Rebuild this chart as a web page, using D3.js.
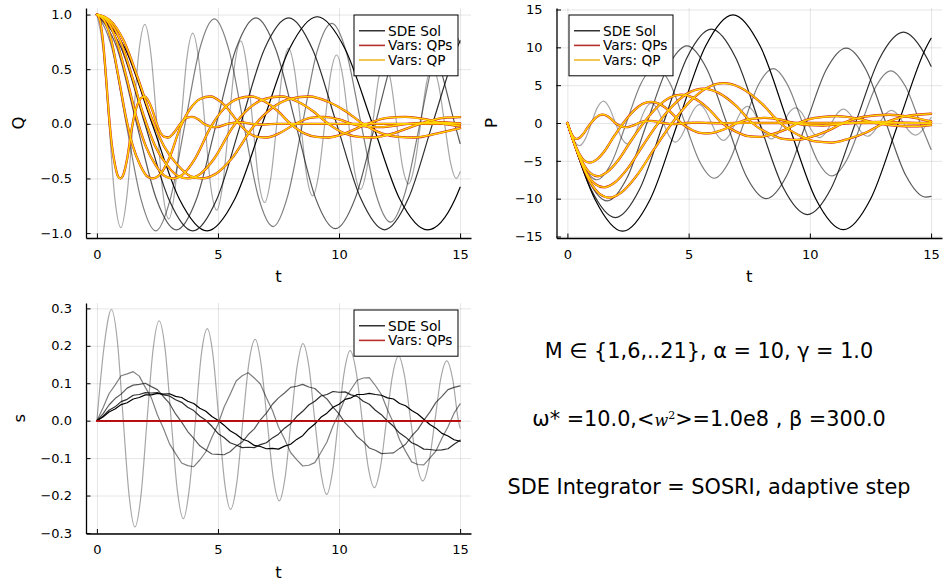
<!DOCTYPE html>
<html>
<head>
<meta charset="utf-8">
<script src="https://cdn.jsdelivr.net/npm/d3@7"></script>
<style>
  body { margin: 0; background: #fff; }
  svg { display: block; }
</style>
</head>
<body>
<svg id="fig" width="946" height="585"></svg>
<script>
// ---------- data ----------
const masses = [1, 6, 11, 16, 21];
const tickT = [0, 5, 10, 15];
const tickQ = [-1, -0.5, 0, 0.5, 1];
const tickP = [-15, -10, -5, 0, 5, 10, 15];
const tickS = [-0.3, -0.2, -0.1, 0, 0.1, 0.2, 0.3];

// SDE solution, coordinate Q(t), one trajectory per M
const qSde = [
  [[0,1],[0.25,0.69],[0.5,0],[0.74,-0.68],[0.99,-0.95],[1.24,-0.66],[1.49,0],[1.73,0.65],[1.98,0.91],[2.23,0.64],[2.48,0],[2.72,-0.62],[2.97,-0.87],[3.22,-0.61],[3.47,0],[3.71,0.59],[3.96,0.83],[4.21,0.58],[4.46,0],[4.7,-0.57],[4.95,-0.79],[5.2,-0.55],[5.45,0],[5.69,0.54],[5.94,0.76],[6.19,0.53],[6.44,0],[6.68,-0.52],[6.93,-0.72],[7.18,-0.5],[7.43,0],[7.67,0.49],[7.92,0.69],[8.17,0.48],[8.42,0],[8.66,-0.47],[8.91,-0.66],[9.16,-0.46],[9.41,0],[9.65,0.45],[9.9,0.63],[10.15,0.44],[10.4,0],[10.64,-0.43],[10.89,-0.6],[11.14,-0.42],[11.39,0],[11.63,0.41],[11.88,0.57],[12.13,0.4],[12.38,0],[12.62,-0.39],[12.87,-0.55],[13.12,-0.38],[13.37,0],[13.61,0.37],[13.86,0.52],[14.11,0.36],[14.36,0],[14.6,-0.35],[14.85,-0.5],[15,-0.44]],
  [[0,1],[0.61,0.7],[1.21,0],[1.82,-0.69],[2.43,-0.98],[3.03,-0.69],[3.64,0],[4.24,0.68],[4.85,0.96],[5.46,0.67],[6.06,0],[6.67,-0.67],[7.28,-0.94],[7.88,-0.66],[8.49,0],[9.09,0.66],[9.7,0.92],[10.31,0.65],[10.91,0],[11.52,-0.64],[12.13,-0.9],[12.73,-0.63],[13.34,0],[13.94,0.62],[14.55,0.88],[15,0.74]],
  [[0,1],[0.82,0.7],[1.64,0],[2.46,-0.69],[3.28,-0.97],[4.11,-0.69],[4.93,0],[5.75,0.69],[6.57,0.97],[7.39,0.68],[8.21,0],[9.03,-0.68],[9.85,-0.96],[10.67,-0.68],[11.5,0],[12.32,0.67],[13.14,0.95],[13.96,0.67],[14.78,0],[15,-0.18]],
  [[0,1],[0.99,0.7],[1.98,0],[2.97,-0.69],[3.96,-0.98],[4.95,-0.69],[5.94,0],[6.93,0.69],[7.92,0.97],[8.91,0.68],[9.9,0],[10.89,-0.68],[11.88,-0.97],[12.87,-0.68],[13.86,0],[14.85,0.68],[15,0.76]],
  [[0,1],[1.14,0.7],[2.28,0],[3.41,-0.69],[4.55,-0.98],[5.69,-0.69],[6.83,0],[7.96,0.69],[9.1,0.98],[10.24,0.69],[11.38,0],[12.51,-0.69],[13.65,-0.97],[14.79,-0.69],[15,-0.58]]
];

// SDE solution, momentum P(t)
const pSde = [
  [[0,0],[0.25,-2.14],[0.5,-3.0],[0.74,-2.1],[0.99,0],[1.24,2.06],[1.49,2.88],[1.73,2.02],[1.98,0],[2.23,-1.97],[2.48,-2.76],[2.72,-1.93],[2.97,0],[3.22,1.88],[3.47,2.64],[3.71,1.84],[3.96,0],[4.21,-1.8],[4.46,-2.53],[4.7,-1.75],[4.95,0],[5.2,1.71],[5.45,2.42],[5.69,1.69],[5.94,0],[6.19,-1.64],[6.44,-2.3],[6.68,-1.6],[6.93,0],[7.18,1.56],[7.43,2.2],[7.67,1.53],[7.92,0],[8.17,-1.5],[8.42,-2.1],[8.66,-1.47],[8.91,0],[9.16,1.43],[9.41,2.01],[9.65,1.4],[9.9,0],[10.15,-1.36],[10.4,-1.92],[10.64,-1.33],[10.89,0],[11.14,1.3],[11.39,1.83],[11.63,1.27],[11.88,0],[12.13,-1.24],[12.38,-1.75],[12.62,-1.22],[12.87,0],[13.12,1.19],[13.37,1.67],[13.61,1.16],[13.86,0],[14.11,-1.13],[14.36,-1.6],[14.6,-1.11],[14.85,0],[15,0.71]],
  [[0,0],[0.61,-5.3],[1.21,-7.5],[1.82,-5.25],[2.43,0],[3.03,5.2],[3.64,7.4],[4.24,5.2],[4.85,0],[5.46,-5.15],[6.06,-7.3],[6.67,-5.1],[7.28,0],[7.88,5.05],[8.49,7.2],[9.09,5.0],[9.7,0],[10.31,-4.95],[10.91,-7.0],[11.52,-4.9],[12.13,0],[12.73,4.85],[13.34,6.9],[13.94,4.85],[14.55,0],[15,-3.5]],
  [[0,0],[0.82,-7.3],[1.64,-10.3],[2.46,-7.25],[3.28,0],[4.11,7.2],[4.93,10.2],[5.75,7.15],[6.57,0],[7.39,-7.1],[8.21,-10.0],[9.03,-7.05],[9.85,0],[10.67,7.0],[11.5,9.9],[12.32,7.0],[13.14,0],[13.96,-6.95],[14.78,-9.8],[15,-9.7]],
  [[0,0],[0.99,-8.85],[1.98,-12.5],[2.97,-8.8],[3.96,0],[4.95,8.75],[5.94,12.4],[6.93,8.7],[7.92,0],[8.91,-8.6],[9.9,-12.1],[10.89,-8.55],[11.88,0],[12.87,8.5],[13.86,12.0],[14.85,8.45],[15,7.5]],
  [[0,0],[1.14,-10.1],[2.28,-14.3],[3.41,-10.1],[4.55,0],[5.69,10.1],[6.83,14.3],[7.96,10.1],[9.1,0],[10.24,-10.0],[11.38,-14.1],[12.51,-10.0],[13.65,0],[14.79,9.95],[15,11.2]]
];

// bath coordinate s(t): M = 1 is smooth, heavier masses carry visible noise
const sSdeLight = [[0,0],[0.3,0.2],[0.6,0.297],[0.85,0.21],[1.09,0],[1.33,-0.2],[1.57,-0.284],[1.82,-0.2],[2.07,0],[2.32,0.19],[2.57,0.267],[2.82,0.19],[3.07,0],[3.32,-0.185],[3.57,-0.262],[3.82,-0.18],[4.07,0],[4.31,0.175],[4.56,0.246],[4.8,0.172],[5.04,0],[5.28,-0.168],[5.52,-0.237],[5.78,-0.165],[6.03,0],[6.28,0.155],[6.54,0.217],[6.78,0.152],[7.03,0],[7.28,-0.15],[7.53,-0.214],[7.78,-0.148],[8.02,0],[8.27,0.145],[8.51,0.206],[8.76,0.143],[9.0,0],[9.25,-0.138],[9.49,-0.197],[9.73,-0.136],[9.97,0],[10.22,0.132],[10.46,0.187],[10.71,0.13],[10.96,0],[11.21,-0.126],[11.46,-0.179],[11.71,-0.124],[11.96,0],[12.21,0.121],[12.46,0.173],[12.71,0.118],[12.96,0],[13.21,-0.114],[13.46,-0.161],[13.71,-0.113],[13.96,0],[14.2,0.112],[14.45,0.16],[14.69,0.112],[14.93,0],[15,-0.02]];

const sTimes = [0,0.25,0.5,0.75,1,1.25,1.5,1.75,2,2.25,2.5,2.75,3,3.25,3.5,3.75,4,4.25,4.5,4.75,5,5.25,5.5,5.75,6,6.25,6.5,6.75,7,7.25,7.5,7.75,8,8.25,8.5,8.75,9,9.25,9.5,9.75,10,10.25,10.5,10.75,11,11.25,11.5,11.75,12,12.25,12.5,12.75,13,13.25,13.5,13.75,14,14.25,14.5,14.75,15];
const sSdeM6  = [0,0.034,0.072,0.095,0.12,0.125,0.131,0.119,0.089,0.061,0.015,-0.021,-0.062,-0.088,-0.113,-0.12,-0.123,-0.105,-0.083,-0.044,-0.01,0.036,0.07,0.106,0.12,0.128,0.114,0.098,0.061,0.027,-0.017,-0.049,-0.085,-0.104,-0.121,-0.119,-0.112,-0.085,-0.057,-0.014,0.02,0.06,0.084,0.108,0.114,0.115,0.094,0.07,0.029,-0.006,-0.051,-0.082,-0.11,-0.117,-0.118,-0.1,-0.081,-0.047,-0.016,0.02,0.045];
const sSdeM11 = [0,0.018,0.042,0.059,0.071,0.087,0.095,0.097,0.1,0.091,0.083,0.064,0.046,0.018,-0.004,-0.029,-0.047,-0.067,-0.078,-0.089,-0.09,-0.091,-0.083,-0.068,-0.057,-0.037,-0.022,0.002,0.02,0.044,0.061,0.074,0.089,0.092,0.097,0.09,0.086,0.071,0.058,0.036,0.018,-0.006,-0.022,-0.043,-0.056,-0.073,-0.079,-0.088,-0.087,-0.086,-0.074,-0.063,-0.041,-0.024,0.001,0.023,0.049,0.065,0.083,0.089,0.093];
const sSdeM16 = [0,0.012,0.028,0.037,0.051,0.057,0.068,0.07,0.075,0.074,0.075,0.069,0.066,0.056,0.049,0.036,0.027,0.012,0.001,-0.015,-0.034,-0.045,-0.059,-0.065,-0.072,-0.071,-0.072,-0.064,-0.059,-0.046,-0.036,-0.02,-0.008,0.011,0.025,0.042,0.052,0.066,0.07,0.078,0.076,0.077,0.069,0.065,0.052,0.044,0.028,0.016,-0.001,-0.015,-0.033,-0.044,-0.059,-0.066,-0.076,-0.077,-0.079,-0.078,-0.075,-0.063,-0.052];
const sSdeM21 = [0,0.01,0.023,0.031,0.043,0.048,0.058,0.062,0.069,0.069,0.073,0.071,0.072,0.065,0.062,0.052,0.046,0.033,0.025,0.011,0.001,-0.012,-0.027,-0.036,-0.049,-0.055,-0.066,-0.069,-0.075,-0.074,-0.076,-0.068,-0.063,-0.05,-0.04,-0.022,-0.009,0.009,0.02,0.036,0.044,0.057,0.061,0.07,0.07,0.073,0.07,0.068,0.061,0.058,0.046,0.04,0.027,0.018,0.004,-0.01,-0.02,-0.034,-0.041,-0.051,-0.055];

// variational trajectories (QPs and QP ansätze coincide at this scale)
const qVars = [
  [[0,1],[0.12,0.95],[0.25,0.76],[0.38,0.42],[0.5,0.07],[0.62,-0.2],[0.75,-0.38],[0.87,-0.48],[0.97,-0.5],[1.1,-0.46],[1.25,-0.32],[1.45,-0.03],[1.62,0.14],[1.8,0.23],[1.97,0.25],[2.15,0.2],[2.3,0.12],[2.47,0],[2.65,-0.09],[2.8,-0.12],[2.95,-0.125],[3.15,-0.09],[3.45,0],[3.7,0.055],[3.93,0.063],[4.2,0.04],[4.42,0],[4.7,-0.025],[4.92,-0.03],[5.4,0],[5.9,0.015],[6.4,0],[6.9,-0.007],[7.4,0],[15,0]],
  [[0,1],[0.29,0.95],[0.6,0.76],[0.9,0.42],[1.19,0.07],[1.48,-0.2],[1.79,-0.38],[2.07,-0.48],[2.31,-0.5],[2.62,-0.46],[2.98,-0.32],[3.45,-0.03],[3.86,0.14],[4.28,0.23],[4.69,0.25],[5.12,0.2],[5.47,0.12],[5.88,0],[6.31,-0.09],[6.66,-0.12],[7.02,-0.125],[7.5,-0.09],[8.21,0],[8.81,0.055],[9.35,0.063],[10.0,0.04],[10.52,0],[11.19,-0.025],[11.71,-0.03],[12.85,0],[14.04,0.015],[15,0.003]],
  [[0,1],[0.39,0.95],[0.81,0.76],[1.23,0.42],[1.62,0.07],[2.01,-0.2],[2.43,-0.38],[2.82,-0.48],[3.14,-0.5],[3.56,-0.46],[4.05,-0.32],[4.7,-0.03],[5.25,0.14],[5.83,0.23],[6.38,0.25],[6.97,0.2],[7.45,0.12],[8.0,0],[8.59,-0.09],[9.07,-0.12],[9.56,-0.125],[10.21,-0.09],[11.18,0],[11.99,0.055],[12.73,0.063],[13.61,0.04],[14.32,0],[15,-0.02]],
  [[0,1],[0.46,0.95],[0.97,0.76],[1.47,0.42],[1.94,0.07],[2.4,-0.2],[2.9,-0.38],[3.37,-0.48],[3.75,-0.5],[4.26,-0.46],[4.84,-0.32],[5.61,-0.03],[6.27,0.14],[6.97,0.23],[7.62,0.25],[8.32,0.2],[8.9,0.12],[9.56,0],[10.26,-0.09],[10.84,-0.12],[11.42,-0.125],[12.19,-0.09],[13.35,0],[14.32,0.055],[15,0.062]],
  [[0,1],[0.53,0.95],[1.11,0.76],[1.69,0.42],[2.23,0.07],[2.76,-0.2],[3.34,-0.38],[3.87,-0.48],[4.32,-0.5],[4.9,-0.46],[5.56,-0.32],[6.45,-0.03],[7.21,0.14],[8.01,0.23],[8.77,0.25],[9.57,0.2],[10.24,0.12],[10.99,0],[11.79,-0.09],[12.46,-0.12],[13.13,-0.125],[14.02,-0.09],[15,-0.04]]
];
const pVars = [
  [[0,0],[0.1,-0.9],[0.2,-1.6],[0.3,-2.0],[0.39,-2.1],[0.5,-1.95],[0.65,-1.45],[0.8,-0.75],[0.97,0],[1.15,0.65],[1.3,1.0],[1.45,1.12],[1.6,1.0],[1.8,0.55],[1.97,0],[2.15,-0.35],[2.3,-0.52],[2.45,-0.55],[2.6,-0.45],[2.78,-0.25],[2.94,0],[3.15,0.2],[3.43,0.27],[3.7,0.17],[3.93,0],[4.2,-0.11],[4.42,-0.13],[4.65,-0.08],[4.9,0],[5.4,0.06],[5.9,0],[6.4,-0.03],[6.9,0],[7.4,0.01],[7.9,0],[15,0]],
  [[0,0],[0.24,-2.25],[0.48,-4.0],[0.71,-5.0],[0.93,-5.25],[1.19,-4.88],[1.55,-3.63],[1.9,-1.88],[2.31,0],[2.74,1.63],[3.09,2.5],[3.45,2.8],[3.81,2.5],[4.28,1.38],[4.69,0],[5.12,-0.88],[5.47,-1.3],[5.83,-1.38],[6.19,-1.13],[6.62,-0.63],[7.0,0],[7.5,0.5],[8.16,0.68],[8.81,0.43],[9.35,0],[10.0,-0.28],[10.52,-0.33],[11.07,-0.2],[11.66,0],[12.85,0.15],[14.04,0],[15,-0.06]],
  [[0,0],[0.32,-3.02],[0.65,-5.36],[0.97,-6.7],[1.26,-7.04],[1.62,-6.53],[2.11,-4.86],[2.59,-2.51],[3.14,0],[3.73,2.18],[4.21,3.35],[4.7,3.75],[5.18,3.35],[5.83,1.84],[6.38,0],[6.97,-1.17],[7.45,-1.74],[7.94,-1.84],[8.42,-1.51],[9.01,-0.84],[9.53,0],[10.21,0.67],[11.11,0.9],[11.99,0.57],[12.73,0],[13.61,-0.37],[14.32,-0.44],[15,-0.28]],
  [[0,0],[0.39,-3.65],[0.77,-6.48],[1.16,-8.1],[1.51,-8.5],[1.94,-7.9],[2.52,-5.87],[3.1,-3.04],[3.75,0],[4.45,2.63],[5.03,4.05],[5.61,4.54],[6.19,4.05],[6.97,2.23],[7.62,0],[8.32,-1.42],[8.9,-2.11],[9.48,-2.23],[10.06,-1.82],[10.76,-1.01],[11.38,0],[12.19,0.81],[13.27,1.09],[14.32,0.69],[15,0.2]],
  [[0,0],[0.45,-4.23],[0.89,-7.52],[1.34,-9.4],[1.74,-9.87],[2.23,-9.17],[2.89,-6.82],[3.56,-3.53],[4.32,0],[5.12,3.06],[5.79,4.7],[6.45,5.26],[7.12,4.7],[8.01,2.59],[8.77,0],[9.57,-1.65],[10.24,-2.44],[10.9,-2.59],[11.57,-2.12],[12.37,-1.18],[13.08,0],[14.02,0.94],[15,1.22]]
];
const sVars = [[[0,0],[15,0]], [[0,0],[15,0]], [[0,0],[15,0]], [[0,0],[15,0]], [[0,0],[15,0]]];

const annotations = [
  "M \u2208 {1,6,..21}, \u03b1 = 10, \u03b3 = 1.0",
  "SDE Integrator = SOSRI, adaptive step"
];

// ---------- styling ----------
const FONT = "DejaVu Sans, sans-serif";
const greyOpacity = [0.35, 0.5, 0.65, 0.82, 1];
const RED = "#c8141a";
const GOLD = "#ffd400";

const svg = d3.select("#fig");
svg.append("rect").attr("width", 946).attr("height", 585).attr("fill", "#fff");

const xDomain = [-0.45, 15.45];

function setupPanel(key, cfg) {
  const x = d3.scaleLinear().domain(xDomain).range([cfg.l, cfg.r]);
  const y = d3.scaleLinear().domain(cfg.yd).range([cfg.b, cfg.t]);
  const g = svg.append("g");
  const gridStyle = s => {
    s.select(".domain").remove();
    s.selectAll(".tick line").attr("stroke", "#000").attr("stroke-opacity", 0.1).attr("stroke-width", 1);
  };
  g.append("g").attr("transform", `translate(0,${cfg.b})`)
    .call(d3.axisBottom(x).tickValues(tickT).tickSize(-(cfg.b - cfg.t)).tickFormat(""))
    .call(gridStyle);
  g.append("g").attr("transform", `translate(${cfg.l},0)`)
    .call(d3.axisLeft(y).tickValues(cfg.yTicks).tickSize(-(cfg.r - cfg.l)).tickFormat(""))
    .call(gridStyle);
  svg.append("clipPath").attr("id", "clip-" + key)
    .append("rect").attr("x", cfg.l).attr("y", cfg.t)
    .attr("width", cfg.r - cfg.l).attr("height", cfg.b - cfg.t);
  const plot = g.append("g").attr("clip-path", `url(#clip-${key})`);
  return { x, y, g, plot, cfg };
}

function drawAxes(ctx) {
  const { x, y, g, cfg } = ctx;
  const xa = g.append("g").attr("transform", `translate(0,${cfg.b})`)
    .call(d3.axisBottom(x).tickValues(tickT).tickFormat(d3.format("d"))
      .tickSizeInner(-4.5).tickSizeOuter(0).tickPadding(11.3));
  const ya = g.append("g").attr("transform", `translate(${cfg.l},0)`)
    .call(d3.axisLeft(y).tickValues(cfg.yTicks).tickFormat(cfg.fmt)
      .tickSizeInner(-4.5).tickSizeOuter(0).tickPadding(14));
  [xa, ya].forEach(a => {
    a.attr("font-family", FONT).attr("font-size", 13);
    a.select(".domain").attr("stroke", "#000").attr("stroke-width", 1.3);
    a.selectAll(".tick line").attr("stroke", "#000").attr("stroke-width", 1);
    a.selectAll(".tick text").attr("fill", "#000");
  });
  g.append("text").attr("x", (cfg.l + cfg.r) / 2).attr("y", cfg.b + 44)
    .attr("text-anchor", "middle").attr("font-family", FONT).attr("font-size", 16.5)
    .attr("fill", "#000").text("t");
  g.append("text")
    .attr("transform", `translate(${cfg.labelX},${(cfg.t + cfg.b) / 2}) rotate(-90)`)
    .attr("text-anchor", "middle").attr("font-family", FONT).attr("font-size", 16.5)
    .attr("fill", "#000").text(cfg.label);
}

function drawLines(ctx, series, opts) {
  const line = d3.line().x(d => ctx.x(d[0])).y(d => ctx.y(d[1])).curve(opts.curve || d3.curveMonotoneX);
  series.forEach((pts, i) => {
    ctx.plot.append("path").datum(pts)
      .attr("d", line).attr("fill", "none")
      .attr("stroke", opts.color)
      .attr("stroke-opacity", opts.opacity ? opts.opacity[i] : 1)
      .attr("stroke-width", opts.width)
      .attr("stroke-linejoin", "round").attr("stroke-linecap", "round");
  });
}

function drawLegend(ctx, x0, y0, w, items) {
  const rowH = 14.6, pad = 8.5;
  const h = pad * 2 + rowH * items.length;
  const lg = ctx.g.append("g");
  lg.append("rect").attr("x", x0).attr("y", y0).attr("width", w).attr("height", h)
    .attr("fill", "#fff").attr("stroke", "#000").attr("stroke-width", 1);
  items.forEach((it, i) => {
    const cy = y0 + pad + rowH * (i + 0.5);
    lg.append("line").attr("x1", x0 + 5).attr("x2", x0 + 31).attr("y1", cy).attr("y2", cy)
      .attr("stroke", it.color).attr("stroke-width", it.width);
    lg.append("text").attr("x", x0 + 34).attr("y", cy + 5)
      .attr("font-family", FONT).attr("font-size", 13.7).attr("fill", "#000").text(it.label);
  });
}

const legendItems = [
  { label: "SDE Sol", color: "#000", width: 1.2 },
  { label: "Vars: QPs", color: "#b5302a", width: 1.6 },
  { label: "Vars: QP", color: "#f5c040", width: 1.8 }
];

// ---------- Q panel ----------
const qCtx = setupPanel("q", { l: 86, r: 471, t: 8, b: 238, yd: [-1.045, 1.06], yTicks: tickQ,
  fmt: d3.format(".1f"), label: "Q", labelX: 24 });
drawLines(qCtx, qSde, { color: "#000", opacity: greyOpacity, width: 1.2 });
drawLines(qCtx, qVars, { color: RED, width: 2.3 });
drawLines(qCtx, qVars, { color: GOLD, width: 1.5 });
drawAxes(qCtx);
drawLegend(qCtx, 354, 15, 104, legendItems);

// ---------- P panel ----------
const pCtx = setupPanel("p", { l: 556.5, r: 942, t: 8, b: 238, yd: [-15.2, 15.2], yTicks: tickP,
  fmt: d3.format("d"), label: "P", labelX: 497 });
drawLines(pCtx, pSde, { color: "#000", opacity: greyOpacity, width: 1.2 });
drawLines(pCtx, pVars, { color: RED, width: 2.3 });
drawLines(pCtx, pVars, { color: GOLD, width: 1.5 });
drawAxes(pCtx);
drawLegend(pCtx, 569, 15, 104, legendItems);

// ---------- s panel ----------
const sCtx = setupPanel("s", { l: 86, r: 471, t: 303, b: 533.5, yd: [-0.3014, 0.3144], yTicks: tickS,
  fmt: d3.format(".1f"), label: "s", labelX: 25 });
drawLines(sCtx, [sSdeLight], { color: "#000", opacity: [greyOpacity[0]], width: 1.2 });
const noisy = [sSdeM6, sSdeM11, sSdeM16, sSdeM21].map(v => sTimes.map((t, i) => [t, v[i]]));
drawLines(sCtx, noisy, { color: "#000", opacity: greyOpacity.slice(1), width: 1.2, curve: d3.curveLinear });
drawLines(sCtx, sVars, { color: "#b80c0c", width: 1.5, curve: d3.curveLinear });
drawAxes(sCtx);
drawLegend(sCtx, 354, 310, 104, legendItems.slice(0, 2));

// ---------- parameter annotations ----------
const ann = svg.append("g").attr("font-family", FONT).attr("font-size", 20.8)
  .attr("fill", "#000").attr("text-anchor", "middle");
ann.append("text").attr("x", 709).attr("y", 357.5).text(annotations[0]);
const l2 = ann.append("text").attr("x", 709).attr("y", 426);
l2.append("tspan").text("\u03c9* =10.0,<");
l2.append("tspan").attr("font-family", "DejaVu Serif, serif").attr("font-style", "italic")
  .attr("font-size", 16).text("w");
l2.append("tspan").attr("font-family", "DejaVu Serif, serif").attr("font-size", 11)
  .attr("dy", -7).text("2");
l2.append("tspan").attr("dy", 7).text(">=1.0e8 , \u03b2 =300.0");
ann.append("text").attr("x", 709).attr("y", 494).text(annotations[1]);
</script>
</body>
</html>
